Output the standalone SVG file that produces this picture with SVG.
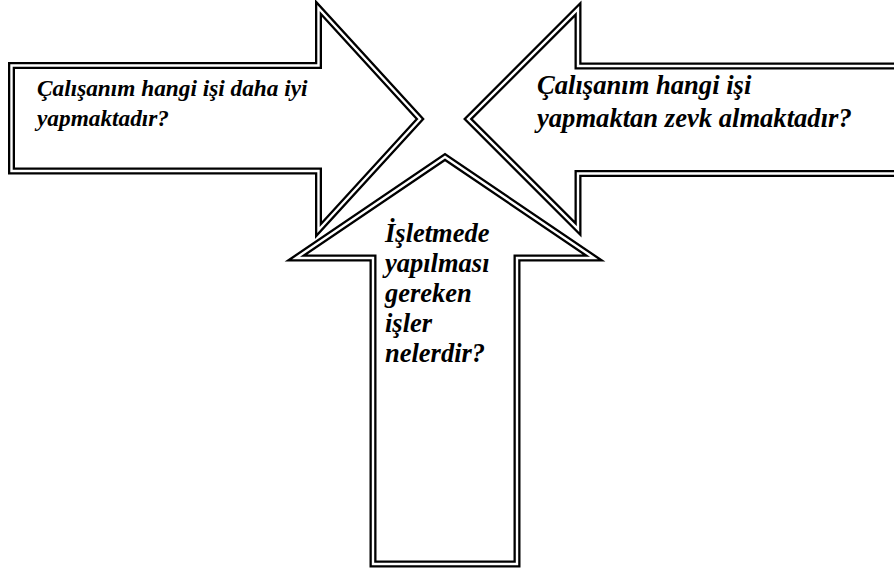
<svg xmlns="http://www.w3.org/2000/svg" width="894" height="570" viewBox="0 0 894 570">
  <style>
    .line { fill: #fff; stroke: #000; stroke-width: 7; stroke-linejoin: miter; stroke-miterlimit: 10; }
    .gap { fill: none; stroke: #fff; stroke-width: 2.4; stroke-linejoin: miter; stroke-miterlimit: 10; }
    .lbl { font-family: "Liberation Serif", "Times New Roman", serif; font-weight: bold; font-style: italic; fill: #000; }
    .s23 { font-size: 23.3px; }
    .s27 { font-size: 26.6px; }
    .s26 { font-size: 26.5px; }
  </style>
  <defs>
    <!-- block arrows, traced along the middle of their double border -->
    <polygon id="arrow-right-shape" points="11.5,65.5 318.5,65.5 318.5,8 420,119 318.5,230 318.5,171 11.5,171"/>
    <polygon id="arrow-left-shape" points="900,66 578,66 578,9 468,119 578,229 578,173.5 900,173.5"/>
    <polygon id="arrow-up-shape" points="373,564 373,258 296,258 445,157 594,258 517,258 517,564"/>
  </defs>
  <rect width="894" height="570" fill="#fff"/>

  <g id="node-skill">
    <use href="#arrow-right-shape" class="line"/>
    <use href="#arrow-right-shape" class="gap"/>
    <text class="lbl s23" x="37" y="96">Çalışanım hangi işi daha iyi</text>
    <text class="lbl s23" x="37" y="126">yapmaktadır?</text>
  </g>

  <g id="node-enjoy">
    <use href="#arrow-left-shape" class="line"/>
    <use href="#arrow-left-shape" class="gap"/>
    <text class="lbl s27" x="537" y="94">Çalışanım hangi işi</text>
    <text class="lbl s27" x="537" y="127">yapmaktan zevk almaktadır?</text>
  </g>

  <g id="node-needs">
    <use href="#arrow-up-shape" class="line"/>
    <use href="#arrow-up-shape" class="gap"/>
    <text class="lbl s26" x="385" y="242">İşletmede</text>
    <text class="lbl s26" x="385" y="272">yapılması</text>
    <text class="lbl s26" x="385" y="302">gereken</text>
    <text class="lbl s26" x="385" y="332">işler</text>
    <text class="lbl s26" x="385" y="362">nelerdir?</text>
  </g>

  <g id="connectors"></g>
</svg>
